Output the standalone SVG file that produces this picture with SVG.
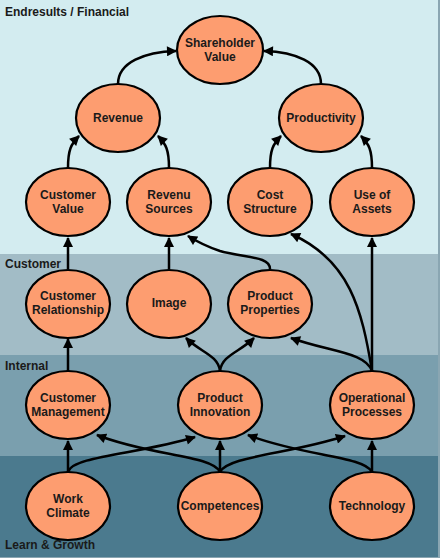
<svg xmlns="http://www.w3.org/2000/svg" width="440" height="558" viewBox="0 0 440 558">
<defs>
<style>
.band-label{font-family:"Liberation Sans",Arial,sans-serif;font-weight:bold;font-size:12px;fill:#1a1a1a}
.node ellipse{fill:#fd9d70;stroke:#000;stroke-width:2.2}
.node text{font-family:"Liberation Sans",Arial,sans-serif;font-weight:bold;font-size:12px;fill:#1a1a1a;text-anchor:middle}
.edge{fill:none;stroke:#000;stroke-width:2.5;marker-end:url(#arr)}
</style>
<marker id="arr" viewBox="0 0 10 10" refX="9" refY="5" markerWidth="4.4" markerHeight="4" orient="auto" markerUnits="strokeWidth">
<path d="M0,0 L10,5 L0,10 z" fill="#000"/>
</marker>
</defs>
<g id="bands">
<rect x="0" y="0" width="440" height="558" fill="#8aa6b2"/>
<rect x="0" y="0" width="438" height="254" fill="#d3ecf0"/>
<rect x="0" y="254" width="438" height="101" fill="#a2bcc6"/>
<rect x="0" y="355" width="438" height="101" fill="#7a9fae"/>
<rect x="0" y="456" width="438" height="101" fill="#4b7a8e"/>
<text class="band-label" x="5" y="16">Endresults / Financial</text>
<text class="band-label" x="5" y="268">Customer</text>
<text class="band-label" x="5" y="370">Internal</text>
<text class="band-label" x="5" y="549">Learn &amp; Growth</text>
</g>
<g id="connectors">
<path class="edge" d="M118,84 C118,62 145,52 176,51"/>
<path class="edge" d="M321,84 C321,62 295,52 264,51"/>
<path class="edge" d="M68,168 C68,150 71,144 79,136"/>
<path class="edge" d="M169,168 C169,150 166,144 158,136"/>
<path class="edge" d="M270,168 C270,150 273,144 281,136"/>
<path class="edge" d="M372,168 C372,150 369,144 361,136"/>
<path class="edge" d="M68,269 L68,238"/>
<path class="edge" d="M169,269 L169,238"/>
<path class="edge" d="M270,269 C270,256 245,258 220,251 C205,246 196,241 188,236"/>
<path class="edge" d="M372,371 C362,310 350,260 291,234"/>
<path class="edge" d="M372,371 L372,238"/>
<path class="edge" d="M372,371 C365,352 330,352 291,338"/>
<path class="edge" d="M220,371 C218,355 200,352 186,338"/>
<path class="edge" d="M220,371 C222,355 240,352 254,338"/>
<path class="edge" d="M68,371 L68,339"/>
<path class="edge" d="M68,472 L68,441"/>
<path class="edge" d="M68,472 C72,456 140,454 195,437"/>
<path class="edge" d="M220,472 C212,455 150,456 97,435"/>
<path class="edge" d="M220,472 L220,441"/>
<path class="edge" d="M220,472 C228,456 290,454 345,436"/>
<path class="edge" d="M372,472 C364,456 302,456 248,435"/>
<path class="edge" d="M372,472 L372,441"/>
</g>
<g id="shareholder-value" class="node"><ellipse cx="220" cy="50" rx="43" ry="34"/><text x="220" y="47">Shareholder</text><text x="220" y="61">Value</text></g>
<g id="revenue" class="node"><ellipse cx="118" cy="118" rx="42" ry="34"/><text x="118" y="122">Revenue</text></g>
<g id="productivity" class="node"><ellipse cx="321" cy="118" rx="42" ry="34"/><text x="321" y="122">Productivity</text></g>
<g id="customer-value" class="node"><ellipse cx="68" cy="202" rx="42" ry="34"/><text x="68" y="199">Customer</text><text x="68" y="213">Value</text></g>
<g id="revenu-sources" class="node"><ellipse cx="169" cy="202" rx="42" ry="34"/><text x="169" y="199">Revenu</text><text x="169" y="213">Sources</text></g>
<g id="cost-structure" class="node"><ellipse cx="270" cy="202" rx="42" ry="34"/><text x="270" y="199">Cost</text><text x="270" y="213">Structure</text></g>
<g id="use-of-assets" class="node"><ellipse cx="372" cy="202" rx="42" ry="34"/><text x="372" y="199">Use of</text><text x="372" y="213">Assets</text></g>
<g id="customer-relationship" class="node"><ellipse cx="68" cy="304" rx="42" ry="34"/><text x="68" y="300">Customer</text><text x="68" y="314">Relationship</text></g>
<g id="image" class="node"><ellipse cx="169" cy="304" rx="42" ry="34"/><text x="169" y="307">Image</text></g>
<g id="product-properties" class="node"><ellipse cx="270" cy="304" rx="42" ry="34"/><text x="270" y="300">Product</text><text x="270" y="314">Properties</text></g>
<g id="customer-management" class="node"><ellipse cx="68" cy="405" rx="42" ry="34"/><text x="68" y="402">Customer</text><text x="68" y="416">Management</text></g>
<g id="product-innovation" class="node"><ellipse cx="220" cy="405" rx="42" ry="34"/><text x="220" y="402">Product</text><text x="220" y="416">Innovation</text></g>
<g id="operational-processes" class="node"><ellipse cx="372" cy="405" rx="42" ry="34"/><text x="372" y="402">Operational</text><text x="372" y="416">Processes</text></g>
<g id="work-climate" class="node"><ellipse cx="68" cy="506" rx="42" ry="34"/><text x="68" y="503">Work</text><text x="68" y="517">Climate</text></g>
<g id="competences" class="node"><ellipse cx="220" cy="506" rx="42" ry="34"/><text x="220" y="510">Competences</text></g>
<g id="technology" class="node"><ellipse cx="372" cy="506" rx="42" ry="34"/><text x="372" y="510">Technology</text></g>
</svg>
